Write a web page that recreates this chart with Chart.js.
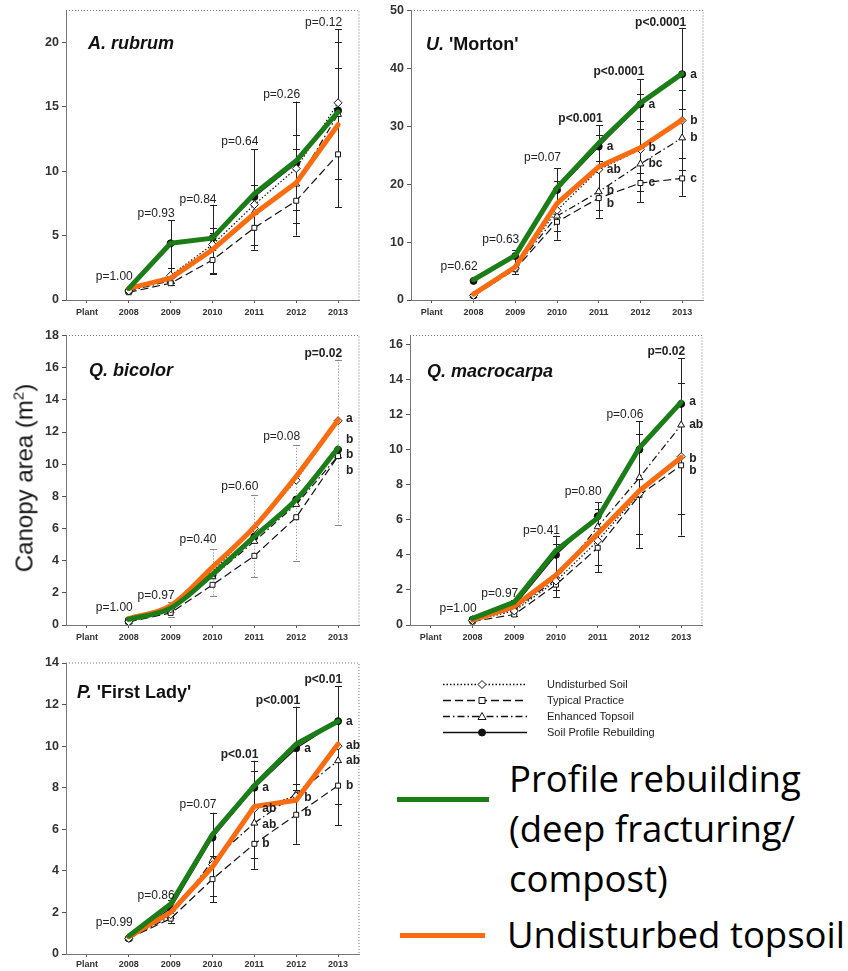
<!DOCTYPE html>
<html>
<head>
<meta charset="utf-8">
<script src="https://cdn.jsdelivr.net/npm/chart.js@4.4.0/dist/chart.umd.min.js"></script>
<style>
body { margin: 0; background: #fff; width: 848px; height: 971px; position: relative; overflow: hidden; font-family: "Liberation Sans", Arial, sans-serif; }
canvas { position: absolute; }
#ytitle { position: absolute; left: 24px; top: 478px; transform: translate(-50%, -50%) rotate(-90deg); font-size: 24px; white-space: nowrap; color: #111; }
#ytitle sup { font-size: 15px; }
.big { position: absolute; font-family: "Open Sans", sans-serif; font-size: 36.5px; line-height: 50px; color: #000; white-space: nowrap; }
.swatch { position: absolute; height: 5px; }
</style>
</head>
<body>
<canvas id="c1" width="345" height="325" style="left:20px;top:0px"></canvas>
<canvas id="c2" width="345" height="325" style="left:365px;top:0px"></canvas>
<canvas id="c3" width="345" height="325" style="left:20px;top:325px"></canvas>
<canvas id="c4" width="345" height="325" style="left:365px;top:325px"></canvas>
<canvas id="c5" width="345" height="321" style="left:20px;top:650px"></canvas>
<canvas id="legend" width="300" height="75" style="left:430px;top:670px"></canvas>
<div id="ytitle">Canopy area (m<sup>2</sup>)</div>
<div class="swatch" style="left:397px;top:797px;width:92px;background:#1b7d17"></div>
<div class="swatch" style="left:400px;top:933px;width:85px;background:#fb6b10"></div>
<div class="big" style="left:509px;top:753px">Profile rebuilding<br>(deep fracturing/<br>compost)</div>
<div class="big" style="left:507px;top:909px">Undisturbed topsoil</div>
<script>
const years = ['Plant', '2008', '2009', '2010', '2011', '2012', '2013'];

// A. rubrum (2008..2013)
const rubUndisturbed = [0.7, 1.9, 4.3, 7.4, 10.2, 15.3];
const rubTypical = [0.6, 1.3, 3.1, 5.6, 7.7, 11.3];
const rubEnhanced = [0.7, 1.5, 4.0, 6.8, 9.0, 14.4];
const rubRebuilding = [0.7, 4.4, 4.8, 8.0, 10.6, 14.7];
const rubGreen = [0.9, 4.4, 4.8, 8.25, 10.8, 14.6];
const rubOrange = [0.9, 1.7, 3.9, 6.7, 9.1, 13.6];
const rubErrHigh = [null, 6.2, 7.4, 11.7, 15.4, 21.0];
const rubErrLow = [null, 1.2, 2.0, 3.9, 5.0, 7.2];
const rubCaps = [[], [2.5, 1.3], [5.6, 5.2, 2.1], [8.9, 4.3], [12.8, 11.7, 7.0, 6.0], [20, 18, 9.4]];
const rubP = ['p=1.00', 'p=0.93', 'p=0.84', 'p=0.64', 'p=0.26', 'p=0.12'];
const rubPAt = [1.8, 6.7, 7.8, 12.3, 15.9, 21.5];
const rubLetters = [];
const rubTicks = [0, 5, 10, 15, 20];

// U. 'Morton'
const morUndisturbed = [0.8, 5.5, 15.5, 22.5, 26.0, 31.0];
const morTypical = [0.7, 5.3, 13.5, 17.6, 20.2, 21.0];
const morEnhanced = [0.8, 5.6, 14.5, 18.7, 23.5, 28.0];
const morRebuilding = [3.3, 7.6, 19.0, 26.5, 33.8, 39.0];
const morGreen = [3.5, 7.7, 19.4, 27.1, 34.0, 39.1];
const morOrange = [1.0, 5.7, 16.7, 23.0, 26.3, 31.1];
const morErrHigh = [null, 8.6, 22.8, 30.2, 38.1, 47.0];
const morErrLow = [null, 4.5, 10.4, 14.2, 16.9, 18.0];
const morCaps = [[], [], [20.5, 12], [28.5, 24, 15.5], [35.5, 31.0, 29.5, 22, 18.8], [36.3, 33, 24.5, 22.5]];
const morP = ['p=0.62', 'p=0.63', 'p=0.07', 'p<0.001', 'p<0.0001', 'p<0.0001'];
const morPAt = [5.7, 10.4, 24.6, 31.3, 39.4, 47.9];
const morLetters = [[3, 26.5, 'a'], [3, 22.5, 'ab'], [3, 18.8, 'b'], [3, 16.6, 'b'],
  [4, 33.8, 'a'], [4, 26.3, 'b'], [4, 23.5, 'bc'], [4, 20.2, 'c'],
  [5, 39.0, 'a'], [5, 31.0, 'b'], [5, 28.0, 'b'], [5, 21.0, 'c']];
const morTicks = [0, 10, 20, 30, 40, 50];

// Q. bicolor
const bicUndisturbed = [0.2, 1.0, 3.3, 6.0, 9.0, 12.7];
const bicTypical = [0.2, 0.75, 2.5, 4.3, 6.7, 10.5];
const bicEnhanced = [0.2, 0.9, 3.0, 5.2, 7.5, 10.5];
const bicRebuilding = [0.3, 1.0, 3.1, 5.5, 7.8, 10.9];
const bicGreen = [0.35, 1.05, 3.15, 5.5, 7.8, 11.0];
const bicOrange = [0.4, 1.2, 3.6, 6.1, 9.25, 12.75];
const bicErrHigh = [null, 1.4, 4.7, 8.1, 11.2, 16.5];
const bicErrLow = [null, 0.5, 1.8, 3.0, 4.0, 6.2];
const bicCaps = [[], [], [], [], [], []];
const bicP = ['p=1.00', 'p=0.97', 'p=0.40', 'p=0.60', 'p=0.08', 'p=0.02'];
const bicPAt = [1.1, 1.8, 5.3, 8.6, 11.7, 16.9];
const bicLetters = [[5, 12.8, 'a'], [5, 11.5, 'b'], [5, 10.6, 'b'], [5, 9.6, 'b']];
const bicTicks = [0, 2, 4, 6, 8, 10, 12, 14, 16, 18];

// Q. macrocarpa
const macUndisturbed = [0.25, 0.8, 2.5, 4.8, 7.5, 9.6];
const macTypical = [0.2, 0.6, 2.3, 4.4, 7.4, 9.1];
const macEnhanced = [0.3, 0.9, 2.6, 5.6, 8.4, 11.4];
const macRebuilding = [0.3, 1.1, 4.0, 6.2, 10.0, 12.6];
const macGreen = [0.38, 1.3, 4.25, 6.1, 10.1, 12.7];
const macOrange = [0.28, 1.05, 2.85, 5.2, 7.65, 9.55];
const macErrHigh = [null, 1.4, 5.1, 7.0, 11.6, 15.2];
const macErrLow = [null, 0.5, 1.6, 3.0, 4.4, 5.1];
const macCaps = [[], [], [4.6, 2.0], [6.6, 3.4], [10.9, 5.2], [13.8, 6.3]];
const macP = ['p=1.00', 'p=0.97', 'p=0.41', 'p=0.80', 'p=0.06', 'p=0.02'];
const macPAt = [0.95, 1.8, 5.4, 7.6, 12.0, 15.6];
const macLetters = [[5, 12.7, 'a'], [5, 11.4, 'ab'], [5, 9.5, 'b'], [5, 8.8, 'b']];
const macTicks = [0, 2, 4, 6, 8, 10, 12, 14, 16];

// P. 'First Lady'
const fstUndisturbed = [0.75, 1.9, 4.3, 7.0, 7.6, 10.0];
const fstTypical = [0.75, 1.7, 3.6, 5.3, 6.7, 8.1];
const fstEnhanced = [0.75, 1.8, 4.5, 6.3, 7.7, 9.3];
const fstRebuilding = [0.75, 2.2, 5.6, 8.0, 9.9, 11.2];
const fstGreen = [0.87, 2.4, 5.76, 8.1, 10.1, 11.2];
const fstOrange = [0.83, 2.0, 4.2, 7.1, 7.4, 10.1];
const fstErrHigh = [null, 2.6, 6.8, 9.3, 11.9, 12.9];
const fstErrLow = [null, 1.5, 2.5, 4.1, 5.3, 6.2];
const fstCaps = [[], [], [4.7, 2.8], [8.8, 4.6], [8.2, 7.9], [7.2]];
const fstP = ['p=0.99', 'p=0.86', 'p=0.07', 'p<0.01', 'p<0.001', 'p<0.01'];
const fstPAt = [1.5, 2.8, 7.2, 9.6, 12.2, 13.2];
const fstLetters = [[3, 8.0, 'a'], [3, 7.0, 'ab'], [3, 6.2, 'ab'], [3, 5.3, 'b'],
  [4, 9.9, 'a'], [4, 7.5, 'b'], [4, 6.8, 'b'],
  [5, 11.2, 'a'], [5, 10.0, 'ab'], [5, 9.3, 'ab'], [5, 8.1, 'b']];
const fstTicks = [0, 2, 4, 6, 8, 10, 12, 14];

const GREEN = '#1b7d17';
const ORANGE = '#fb6b10';
const FONT = '"Liberation Sans", Arial, sans-serif';

function withPlant(v) { return [null].concat(v); }

// frame, error bars, p-values, letters and the species name
function decor(p) {
  return {
    id: 'decor',
    beforeDatasetsDraw(chart) {
      const { ctx, chartArea: a, scales: { x, y } } = chart;
      ctx.save();
      ctx.strokeStyle = '#777';
      ctx.lineWidth = 1;
      ctx.setLineDash([1, 2]);
      ctx.beginPath();
      ctx.moveTo(a.left, a.top);
      ctx.lineTo(a.right, a.top);
      ctx.lineTo(a.right, a.bottom);
      ctx.stroke();

      ctx.strokeStyle = p.errColor || '#222';
      ctx.setLineDash(p.errDash || []);
      p.errHigh.forEach((hi, i) => {
        if (hi == null) return;
        const px = Math.round(x.getPixelForValue(i + 1)) + 0.5;
        ctx.beginPath();
        ctx.moveTo(px, y.getPixelForValue(hi));
        ctx.lineTo(px, y.getPixelForValue(p.errLow[i]));
        ctx.stroke();
        ctx.setLineDash([]);
        [hi, p.errLow[i]].concat(p.caps[i]).forEach(v => {
          const py = Math.round(y.getPixelForValue(v)) + 0.5;
          ctx.beginPath();
          ctx.moveTo(px - 3.5, py);
          ctx.lineTo(px + 3.5, py);
          ctx.stroke();
        });
        ctx.setLineDash(p.errDash || []);
      });
      ctx.restore();
    },
    afterDatasetsDraw(chart) {
      const { ctx, chartArea: a, scales: { x, y } } = chart;
      ctx.save();
      ctx.fillStyle = '#222';
      ctx.textBaseline = 'middle';

      ctx.textAlign = 'right';
      p.pText.forEach((t, i) => {
        const strong = t.startsWith('p<') || p.boldP.includes(i);
        ctx.font = (strong ? 'bold ' : '') + '12px ' + FONT;
        ctx.fillText(t, x.getPixelForValue(i + 1) + 4, y.getPixelForValue(p.pAt[i]));
      });

      ctx.textAlign = 'left';
      ctx.font = 'bold 12px ' + FONT;
      p.letters.forEach(([i, v, t]) => {
        ctx.fillText(t, x.getPixelForValue(i + 1) + 8, y.getPixelForValue(v));
      });

      ctx.fillStyle = '#111';
      let tx = a.left + p.titleDx;
      const ty = a.top + p.titleDy;
      p.title.forEach(([t, italic]) => {
        ctx.font = (italic ? 'italic ' : '') + 'bold 18px ' + FONT;
        ctx.fillText(t, tx, ty);
        tx += ctx.measureText(t).width;
      });
      ctx.restore();
    }
  };
}

function panel(id, p) {
  const black = (label, data, dash, style, fill, r) => ({
    label, data: withPlant(data), borderColor: '#111', borderWidth: 1.2, borderDash: dash,
    pointStyle: style, pointRadius: r, pointBackgroundColor: fill, pointBorderColor: '#111',
    pointBorderWidth: 1, tension: 0, order: 2
  });
  const thick = (label, data, color, order) => ({
    label, data: withPlant(data), borderColor: color, borderWidth: 5, pointRadius: 0,
    tension: p.tension || 0, cubicInterpolationMode: p.tension ? 'monotone' : 'default',
    borderCapStyle: 'round', borderJoinStyle: 'round', order
  });
  return new Chart(document.getElementById(id), {
    type: 'line',
    data: {
      labels: years,
      datasets: [
        thick('Profile rebuilding', p.green, GREEN, 0),
        thick('Undisturbed topsoil', p.orange, ORANGE, 1),
        black('Undisturbed Soil', p.undisturbed, [1.5, 2], 'rectRot', '#fff', 4),
        black('Typical Practice', p.typical, [8, 4], 'rect', '#fff', 3.5),
        black('Enhanced Topsoil', p.enhanced, [7, 3, 1.5, 3], 'triangle', '#fff', 4),
        black('Soil Profile Rebuilding', p.rebuilding, [], 'circle', '#111', 3.5)
      ]
    },
    options: {
      responsive: false,
      animation: false,
      events: [],
      layout: { padding: p.pad },
      plugins: { legend: { display: false }, tooltip: { enabled: false } },
      scales: {
        x: {
          offset: true,
          grid: { drawOnChartArea: false, tickLength: 3, color: '#555' },
          border: { color: '#777', dash: [1, 2] },
          ticks: { font: { family: FONT, size: 9, weight: 'bold' }, color: '#333', padding: p.xPad, maxRotation: 0, autoSkip: false },
          afterFit: s => { s.height = p.xH; }
        },
        y: {
          min: 0,
          max: p.yMax,
          grid: { drawOnChartArea: false, tickLength: 4, color: '#555' },
          border: { color: '#777', dash: [1, 2] },
          ticks: { font: { family: FONT, size: 12.5, weight: 'bold' }, color: '#333', padding: 3 },
          afterBuildTicks: s => { s.ticks = p.yTicks.map(v => ({ value: v })); },
          afterFit: s => { s.width = p.yW; }
        }
      }
    },
    plugins: [decor(p)]
  });
}

panel('c1', {
  undisturbed: rubUndisturbed, typical: rubTypical, enhanced: rubEnhanced, rebuilding: rubRebuilding,
  green: rubGreen, orange: rubOrange, errHigh: rubErrHigh, errLow: rubErrLow, caps: rubCaps,
  pText: rubP, pAt: rubPAt, boldP: [], letters: rubLetters, yTicks: rubTicks, yMax: 22.46,
  pad: { top: 8, right: 6, left: 0, bottom: 0 }, yW: 46, xH: 25, xPad: 4,
  title: [['A. rubrum', true]], titleDx: 22, titleDy: 34
});

panel('c2', {
  undisturbed: morUndisturbed, typical: morTypical, enhanced: morEnhanced, rebuilding: morRebuilding,
  green: morGreen, orange: morOrange, errHigh: morErrHigh, errLow: morErrLow, caps: morCaps,
  pText: morP, pAt: morPAt, boldP: [], letters: morLetters, yTicks: morTicks, yMax: 50,
  pad: { top: 8, right: 7, left: 0, bottom: 0 }, yW: 46, xH: 25, xPad: 4,
  title: [['U. ', true], ["'Morton'", false]], titleDx: 15, titleDy: 35
});

panel('c3', {
  undisturbed: bicUndisturbed, typical: bicTypical, enhanced: bicEnhanced, rebuilding: bicRebuilding,
  green: bicGreen, orange: bicOrange, errHigh: bicErrHigh, errLow: bicErrLow, caps: bicCaps,
  errColor: '#888', errDash: [1, 2], tension: 0.3,
  pText: bicP, pAt: bicPAt, boldP: [5], letters: bicLetters, yTicks: bicTicks, yMax: 18,
  pad: { top: 8, right: 6, left: 0, bottom: 0 }, yW: 46, xH: 25, xPad: 4,
  title: [['Q. bicolor', true]], titleDx: 23, titleDy: 36
});

panel('c4', {
  undisturbed: macUndisturbed, typical: macTypical, enhanced: macEnhanced, rebuilding: macRebuilding,
  green: macGreen, orange: macOrange, errHigh: macErrHigh, errLow: macErrLow, caps: macCaps,
  pText: macP, pAt: macPAt, boldP: [5], letters: macLetters, yTicks: macTicks, yMax: 16.5,
  pad: { top: 9, right: 8, left: 0, bottom: 0 }, yW: 45, xH: 25, xPad: 4,
  title: [['Q. macrocarpa', true]], titleDx: 17, titleDy: 37
});

panel('c5', {
  undisturbed: fstUndisturbed, typical: fstTypical, enhanced: fstEnhanced, rebuilding: fstRebuilding,
  green: fstGreen, orange: fstOrange, errHigh: fstErrHigh, errLow: fstErrLow, caps: fstCaps,
  pText: fstP, pAt: fstPAt, boldP: [], letters: fstLetters, yTicks: fstTicks, yMax: 14,
  pad: { top: 13, right: 6, left: 0, bottom: 0 }, yW: 46, xH: 17, xPad: 2,
  title: [['P. ', true], ["'First Lady'", false]], titleDx: 11, titleDy: 30
});

// small black legend for the four treatments
const legendNames = ['Undisturbed Soil', 'Typical Practice', 'Enhanced Topsoil', 'Soil Profile Rebuilding'];
const legendDash = [[1.5, 2], [8, 4], [7, 3, 1.5, 3], []];
const legendMark = ['diamond', 'square', 'triangle', 'circle'];
const lg = document.getElementById('legend').getContext('2d');
legendNames.forEach((name, i) => {
  const yy = 14 + i * 16 + 0.5;
  lg.strokeStyle = '#111';
  lg.lineWidth = 1.3;
  lg.setLineDash(legendDash[i]);
  lg.beginPath();
  lg.moveTo(13, yy);
  lg.lineTo(97, yy);
  lg.stroke();
  lg.setLineDash([]);
  lg.lineWidth = 1;
  lg.beginPath();
  const cx = 52;
  if (legendMark[i] === 'diamond') {
    lg.moveTo(cx, yy - 4); lg.lineTo(cx + 4, yy); lg.lineTo(cx, yy + 4); lg.lineTo(cx - 4, yy); lg.closePath();
    lg.fillStyle = '#fff';
  } else if (legendMark[i] === 'square') {
    lg.rect(cx - 3, yy - 3, 6, 6);
    lg.fillStyle = '#fff';
  } else if (legendMark[i] === 'triangle') {
    lg.moveTo(cx, yy - 4); lg.lineTo(cx + 4, yy + 3); lg.lineTo(cx - 4, yy + 3); lg.closePath();
    lg.fillStyle = '#fff';
  } else {
    lg.arc(cx, yy, 3.5, 0, Math.PI * 2);
    lg.fillStyle = '#111';
  }
  lg.fill();
  lg.stroke();
  lg.fillStyle = '#222';
  lg.font = '11px ' + FONT;
  lg.textBaseline = 'middle';
  lg.fillText(name, 117, yy);
});
</script>
</body>
</html>
